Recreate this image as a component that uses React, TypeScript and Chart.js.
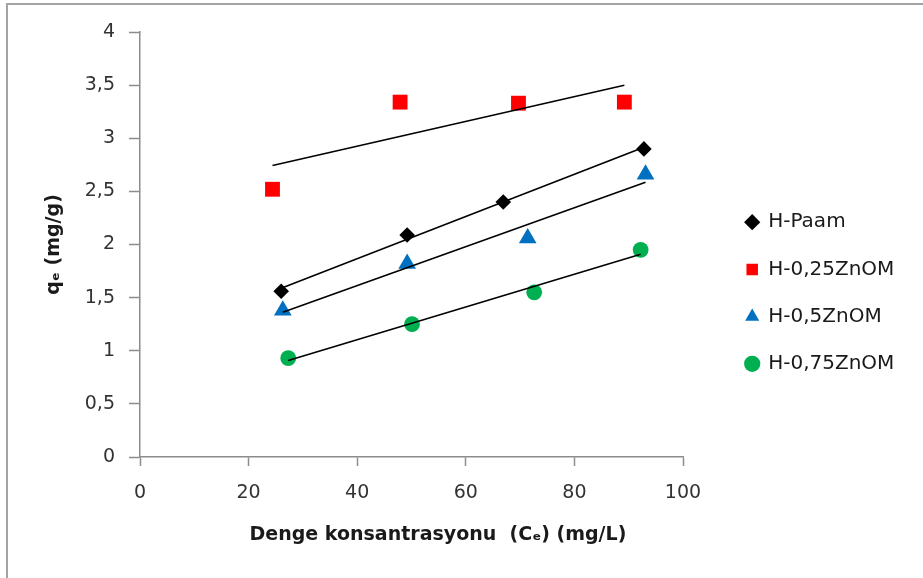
import React, { useEffect, useRef } from "react";
import { Chart, registerables } from "chart.js";

Chart.register(...registerables);

// ---- data ----
const seriesNames = ["H-Paam", "H-0,25ZnOM", "H-0,5ZnOM", "H-0,75ZnOM"];
const paamX = [26.0, 49.2, 66.9, 92.8];
const paamY = [1.56, 2.09, 2.4, 2.9];
const zn25X = [24.4, 47.9, 69.7, 89.2];
const zn25Y = [2.52, 3.34, 3.33, 3.34];
const zn50X = [26.3, 49.2, 71.4, 93.1];
const zn50Y = [1.38, 1.82, 2.06, 2.66];
const zn75X = [27.3, 50.1, 72.6, 92.2];
const zn75Y = [0.93, 1.25, 1.55, 1.95];
const seriesColors = ["#000000", "#ff0000", "#0070c0", "#00b050"];
const pointStyles = ["rectRot", "rect", "triangle", "circle"];
const pointSizes = [7.8, 10.5, 10.2, 7.9];
const xTitle = "Denge konsantrasyonu  (Cₑ) (mg/L)";
const yTitle = "qₑ (mg/g)";

const W = 923;
const H = 578;
const FONT = '"DejaVu Sans", sans-serif';

function toPoints(xs: number[], ys: number[]) {
  return xs.map((x, i) => ({ x, y: ys[i] }));
}

// linear least-squares trend line spanning the data range
function trend(xs: number[], ys: number[]) {
  const n = xs.length;
  const mx = xs.reduce((a, b) => a + b, 0) / n;
  const my = ys.reduce((a, b) => a + b, 0) / n;
  let sxy = 0;
  let sxx = 0;
  for (let i = 0; i < n; i++) {
    sxy += (xs[i] - mx) * (ys[i] - my);
    sxx += (xs[i] - mx) * (xs[i] - mx);
  }
  const b = sxy / sxx;
  const a = my - b * mx;
  const x0 = Math.min(...xs);
  const x1 = Math.max(...xs);
  return [
    { x: x0, y: a + b * x0 },
    { x: x1, y: a + b * x1 },
  ];
}

export default function App() {
  const ref = useRef<HTMLCanvasElement | null>(null);

  useEffect(() => {
    if (!ref.current) return;
    const allX = [paamX, zn25X, zn50X, zn75X];
    const allY = [paamY, zn25Y, zn50Y, zn75Y];

    const legendFontSize = 20;
    const legendPad = 27.2;
    const boxW = 12;
    const m = document.createElement("canvas").getContext("2d")!;
    m.font = `${legendFontSize}px ${FONT}`;
    const maxTextW = Math.max(...seriesNames.map((s) => m.measureText(s).width));
    const legendW = legendPad + boxW + legendFontSize / 2 + maxTextW + 10;
    const padRight = Math.max(0, W - 719 - legendW);

    const markerSets = seriesNames.map((name, i) => ({
      label: name,
      data: toPoints(allX[i], allY[i]),
      showLine: false,
      order: 1,
      pointStyle: pointStyles[i],
      pointRadius: pointSizes[i],
      pointHoverRadius: pointSizes[i],
      pointBackgroundColor: seriesColors[i],
      pointBorderColor: seriesColors[i],
      pointBorderWidth: 0,
      backgroundColor: seriesColors[i],
      borderColor: seriesColors[i],
      borderWidth: 0,
    }));
    const trendSets = seriesNames.map((name, i) => ({
      label: "trend " + name,
      data: trend(allX[i], allY[i]),
      showLine: true,
      order: 0,
      pointRadius: 0,
      pointHoverRadius: 0,
      borderColor: "#000000",
      backgroundColor: "#000000",
      borderWidth: 1.6,
    }));

    const axisColor = "#8c8c8c";
    const tickFont = { family: FONT, size: 19 };
    const titleFont = { family: FONT, size: 19, weight: "bold" as const };
    const fmt = (v: any) => String(v).replace(".", ",");

    const chart = new Chart(ref.current, {
      type: "scatter",
      data: { datasets: [...markerSets, ...trendSets] as any },
      options: {
        animation: false,
        responsive: false,
        devicePixelRatio: 1,
        layout: { padding: { top: 32, left: 0, right: padRight, bottom: 24 } },
        plugins: {
          tooltip: { enabled: false },
          legend: {
            position: "right",
            align: "center",
            maxWidth: 400,
            labels: {
              filter: (item: any) => item.datasetIndex < seriesNames.length,
              usePointStyle: true,
              boxWidth: boxW,
              boxHeight: 11.5,
              padding: legendPad,
              color: "#1a1a1a",
              font: { family: FONT, size: legendFontSize },
            },
          },
        },
        scales: {
          x: {
            type: "linear",
            position: "bottom",
            min: 0,
            max: 100,
            ticks: { stepSize: 20, padding: 16, color: "#333333", font: tickFont, callback: fmt },
            grid: { drawOnChartArea: false, tickLength: 9, color: axisColor, tickWidth: 1.5 },
            border: { color: axisColor, width: 1.5 },
            title: {
              display: true,
              text: "        " + xTitle,
              color: "#1a1a1a",
              font: titleFont,
              padding: { top: 0, bottom: 8 },
            },
            afterFit: (s: any) => {
              s.height = 97;
            },
          },
          y: {
            type: "linear",
            position: "left",
            min: 0,
            max: 4,
            ticks: { stepSize: 0.5, padding: 14, color: "#333333", font: tickFont, callback: fmt },
            grid: { drawOnChartArea: false, tickLength: 11, color: axisColor, tickWidth: 1.5 },
            border: { color: axisColor, width: 1.5 },
            title: {
              display: true,
              text: yTitle,
              color: "#1a1a1a",
              font: titleFont,
              padding: { top: 43, bottom: 0 },
            },
            afterFit: (s: any) => {
              s.width = 140;
            },
          },
          gap: {
            type: "linear",
            position: "right",
            display: true,
            grid: { display: false, drawTicks: false },
            ticks: { display: false },
            border: { display: false },
            afterFit: (s: any) => {
              s.width = 36;
            },
          },
        },
      } as any,
    });
    return () => chart.destroy();
  }, []);

  return (
    <div
      style={{
        position: "fixed",
        left: 0,
        top: 0,
        width: W,
        height: H,
        background: "#ffffff",
        overflow: "hidden",
      }}
    >
      <div
        style={{
          position: "absolute",
          left: 6,
          top: 3,
          width: W + 20,
          height: H + 20,
          borderTop: "2px solid #a3a3a3",
          borderLeft: "2px solid #a3a3a3",
        }}
      />
      <canvas
        ref={ref}
        width={W}
        height={H}
        style={{ position: "absolute", left: 0, top: 0, width: W, height: H }}
      />
    </div>
  );
}
